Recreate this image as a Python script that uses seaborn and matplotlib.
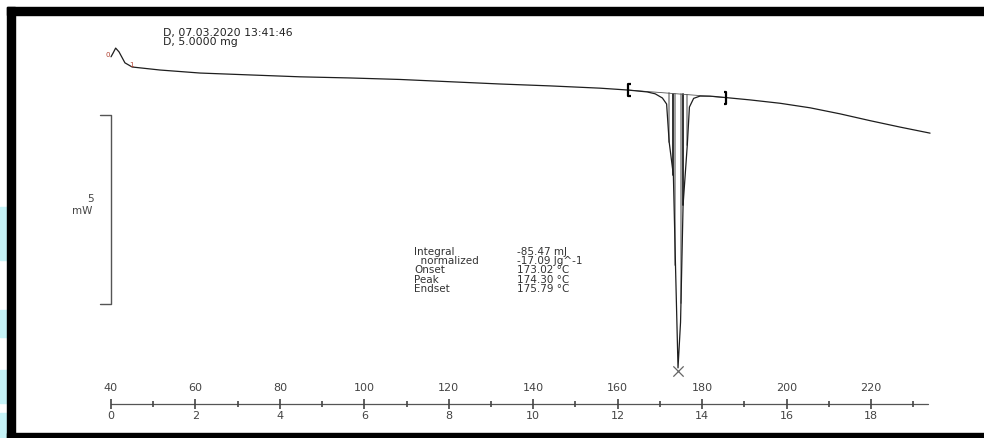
import numpy as np
import pandas as pd
import matplotlib
matplotlib.use("Agg")
import matplotlib.pyplot as plt
import seaborn as sns
from matplotlib.patches import Rectangle

# DSC heating curve: temperature (°C) vs. heat flow (mW, arbitrary offset)
temp_c = [40.0, 40.5, 41.1, 41.9, 43.3, 45.0, 51.6, 61.1, 72.9, 84.8, 96.6,
          108.5, 120.3, 132.2, 144.0, 155.8, 162.5, 167.0, 168.9, 170.6, 171.6,
          172.2, 173.2, 173.7, 174.3, 174.9, 175.5, 176.5, 177.0, 178.0, 179.5,
          181.9, 185.7, 191.3, 198.5, 205.6, 212.7, 219.8, 226.9, 234.0]
heat_flow_mw = [6.54, 6.64, 6.77, 6.67, 6.38, 6.27, 6.19, 6.11, 6.06, 6.01, 5.98,
                5.94, 5.88, 5.82, 5.77, 5.71, 5.66, 5.61, 5.56, 5.45, 5.29,
                4.29, 3.41, 1.03, -1.69, -0.48, 2.62, 4.21, 5.21, 5.44, 5.50,
                5.50, 5.46, 5.40, 5.31, 5.19, 5.03, 4.85, 4.68, 4.52]

# integration limits of the melting peak
limit_temps = [162.5, 185.7]
limit_flows = [5.66, 5.46]
peak_temp = 174.3
peak_flow = -1.69

# hatch strokes filling the integrated area
hatch_temps = [172.2, 173.2, 173.7, 175.0, 175.5, 176.5]
hatch_colors = ["#9a9a9a", "#222222", "#9a9a9a", "#9a9a9a", "#222222", "#9a9a9a"]

# temperature / time axis
major_temps = [40, 60, 80, 100, 120, 140, 160, 180, 200, 220]
minor_temps = [50, 70, 90, 110, 130, 150, 170, 190, 210, 230]
time_labels = ["0", "2", "4", "6", "8", "10", "12", "14", "16", "18"]
axis_end_temp = 233.5

result_names = ["Integral", "  normalized", "Onset", "Peak", "Endset"]
result_values = ["-85.47 mJ", "-17.09 Jg^-1", "173.02 °C", "174.30 °C", "175.79 °C"]

header_lines = ["D, 07.03.2020 13:41:46", "D, 5.0000 mg"]
scale_mw = 5

W, H = 984, 438
PX_PER_C = 4.222
PX_PER_MW = 37.8
X0_PX, T0 = 111, 40.0
Y0_PX = 304  # pixel row of 0 mW


def tx(px):
    return T0 + (px - X0_PX) / PX_PER_C


def my(py):
    return (Y0_PX - py) / PX_PER_MW


sns.set_style("white")
plt.rcParams["font.family"] = ["DejaVu Sans"]

fig = plt.figure(figsize=(W / 100, H / 100), dpi=100)
fig.patch.set_facecolor("white")
ax = fig.add_axes([0, 0, 1, 1])
ax.set_xlim(tx(0), tx(W))
ax.set_ylim(my(H), my(0))
ax.axis("off")

df = pd.DataFrame({"T": temp_c, "HF": heat_flow_mw})
sns.lineplot(data=df, x="T", y="HF", sort=False, estimator=None,
             color="#1e1e1e", lw=0.9, ax=ax, zorder=3)

# hatch strokes between the straight baseline and the curve
for t, c in zip(hatch_temps, hatch_colors):
    base = np.interp(t, limit_temps, limit_flows)
    curve = np.interp(t, temp_c, heat_flow_mw)
    ax.plot([t, t], [base, curve], color=c, lw=1.3, zorder=2)
ax.plot(limit_temps, limit_flows, color="#555555", lw=0.6, zorder=2)

# integration limit brackets
dy = 6 / PX_PER_MW
dx = 2.5 / PX_PER_C
for t, f, sgn in zip(limit_temps, limit_flows, [1, -1]):
    ax.plot([t + sgn * dx, t, t, t + sgn * dx], [f + dy, f + dy, f - dy, f - dy],
            color="black", lw=1.6, zorder=4, solid_capstyle="butt")

# peak marker
ax.scatter([peak_temp], [peak_flow - 3 / PX_PER_MW], marker="x", s=55,
           color="#666666", linewidths=0.9, zorder=5)

# start markers
ax.text(tx(108), my(55), "0", color="#b04030", fontsize=5, ha="center", va="center")
ax.text(tx(131), my(65), "1", color="#b04030", fontsize=5, ha="center", va="center")

# header
ax.text(tx(163), my(28), "\n".join(header_lines), fontsize=7.8, color="#222222",
        ha="left", va="top", linespacing=0.85)

# result block
ax.text(tx(414), my(247), "\n".join(result_names), fontsize=7.5, color="#333333",
        ha="left", va="top", linespacing=0.9)
ax.text(tx(517), my(247), "\n".join(result_values), fontsize=7.5, color="#333333",
        ha="left", va="top", linespacing=0.9)

# scale bar
sb_x = tx(111)
arm = tx(100)
ax.plot([arm, sb_x, sb_x, arm], [scale_mw, scale_mw, 0, 0], color="#555555", lw=1.0)
ax.text(tx(90), my(199), str(scale_mw), fontsize=7.5, color="#444444", ha="center", va="center")
ax.text(tx(82), my(211), "mW", fontsize=7.5, color="#444444", ha="center", va="center")

# temperature / time axis
axis_y = my(404)
ax.plot([T0, axis_end_temp], [axis_y, axis_y], color="#555555", lw=0.9)
ax.vlines(major_temps, axis_y - 5 / PX_PER_MW, axis_y + 5 / PX_PER_MW,
          color="#444444", lw=1.2)
ax.vlines(minor_temps, axis_y - 3 / PX_PER_MW, axis_y + 3 / PX_PER_MW,
          color="#444444", lw=1.2)
for t, lab in zip(major_temps, time_labels):
    ax.text(t, my(388), str(t), fontsize=8, color="#444444", ha="center", va="center")
    ax.text(t, my(416), lab, fontsize=8, color="#444444", ha="center", va="center")

# screen frame
def frect(x0, y0, x1, y1, color):
    fig.patches.append(Rectangle((x0 / W, 1 - y1 / H), (x1 - x0) / W, (y1 - y0) / H,
                                 transform=fig.transFigure, color=color, zorder=10))

for ya, yb in [(207, 260), (310, 337), (370, 403), (413, 438)]:
    frect(0, ya, 7, yb, "#c6f3f7")
frect(7, 7, 15, 438, "black")
frect(7, 7, W, 15, "black")
frect(7, 433, W, 438, "black")

fig.savefig("out.png", dpi=100, facecolor="white")
